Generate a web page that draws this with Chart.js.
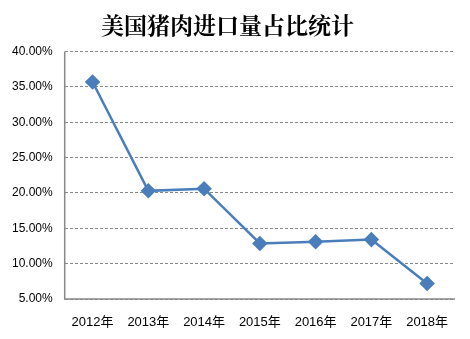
<!DOCTYPE html>
<html><head><meta charset="utf-8">
<script src="https://cdn.jsdelivr.net/npm/chart.js@4"></script>
<style>html,body{margin:0;padding:0;background:#fff}#wrap{width:470px;height:339px}</style>
</head><body><div id="wrap"><canvas id="c" width="470" height="339"></canvas></div>
<script>
const categories = ['2012年','2013年','2014年','2015年','2016年','2017年','2018年'];
const shareValues = [35.7, 20.3, 20.6, 12.85, 13.1, 13.4, 7.2];
const yTicks = [5, 10, 15, 20, 25, 30, 35, 40];
const titleText = '美国猪肉进口量占比统计';

new Chart(document.getElementById('c'), {
  type: 'line',
  data: {
    labels: categories,
    datasets: [{
      data: shareValues,
      borderColor: '#4A7EBB',
      backgroundColor: '#4A7EBB',
      borderWidth: 2.5,
      pointStyle: 'rectRot',
      pointRadius: 6,
      pointHoverRadius: 6,
      tension: 0
    }]
  },
  options: {
    responsive: false,
    animation: false,
    layout: { padding: { left: 0, right: 15, top: 5, bottom: -7 } },
    plugins: {
      legend: { display: false },
      tooltip: { enabled: false },
      title: {
        display: true,
        text: titleText,
        color: '#000',
        font: { family: '"Noto Serif CJK SC", "Noto Sans CJK SC"', size: 23, weight: 'bold' },
        padding: { top: 6, bottom: 13 }
      }
    },
    scales: {
      x: {
        offset: true,
        grid: { display: false, drawTicks: false },
        border: { display: false },
        ticks: { color: '#000', font: { family: '"Liberation Sans", "Noto Sans CJK SC"', size: 13, lineHeight: 1 }, padding: 17, maxRotation: 0 }
      },
      y: {
        min: yTicks[0],
        max: yTicks[yTicks.length - 1],
        afterBuildTicks: (axis) => { axis.ticks = yTicks.map(v => ({ value: v })); },
        grid: { color: '#888', lineWidth: 1, drawTicks: false },
        border: { display: false, dash: [3, 2] },
        ticks: {
          color: '#000',
          font: { family: '"Liberation Sans"', size: 12 },
          padding: 12,
          callback: (v) => v.toFixed(2) + '%'
        }
      }
    }
  },
  plugins: [{
    id: 'axisLines',
    beforeDatasetsDraw(chart) {
      const { ctx, chartArea: a } = chart;
      ctx.save();
      ctx.setLineDash([]);
      ctx.strokeStyle = '#888';
      ctx.lineWidth = 1.5;
      ctx.beginPath();
      ctx.moveTo(a.left, a.top);
      ctx.lineTo(a.left, a.bottom);
      ctx.lineTo(a.right, a.bottom);
      ctx.stroke();
      ctx.restore();
    }
  }]
});
</script>
</body></html>
